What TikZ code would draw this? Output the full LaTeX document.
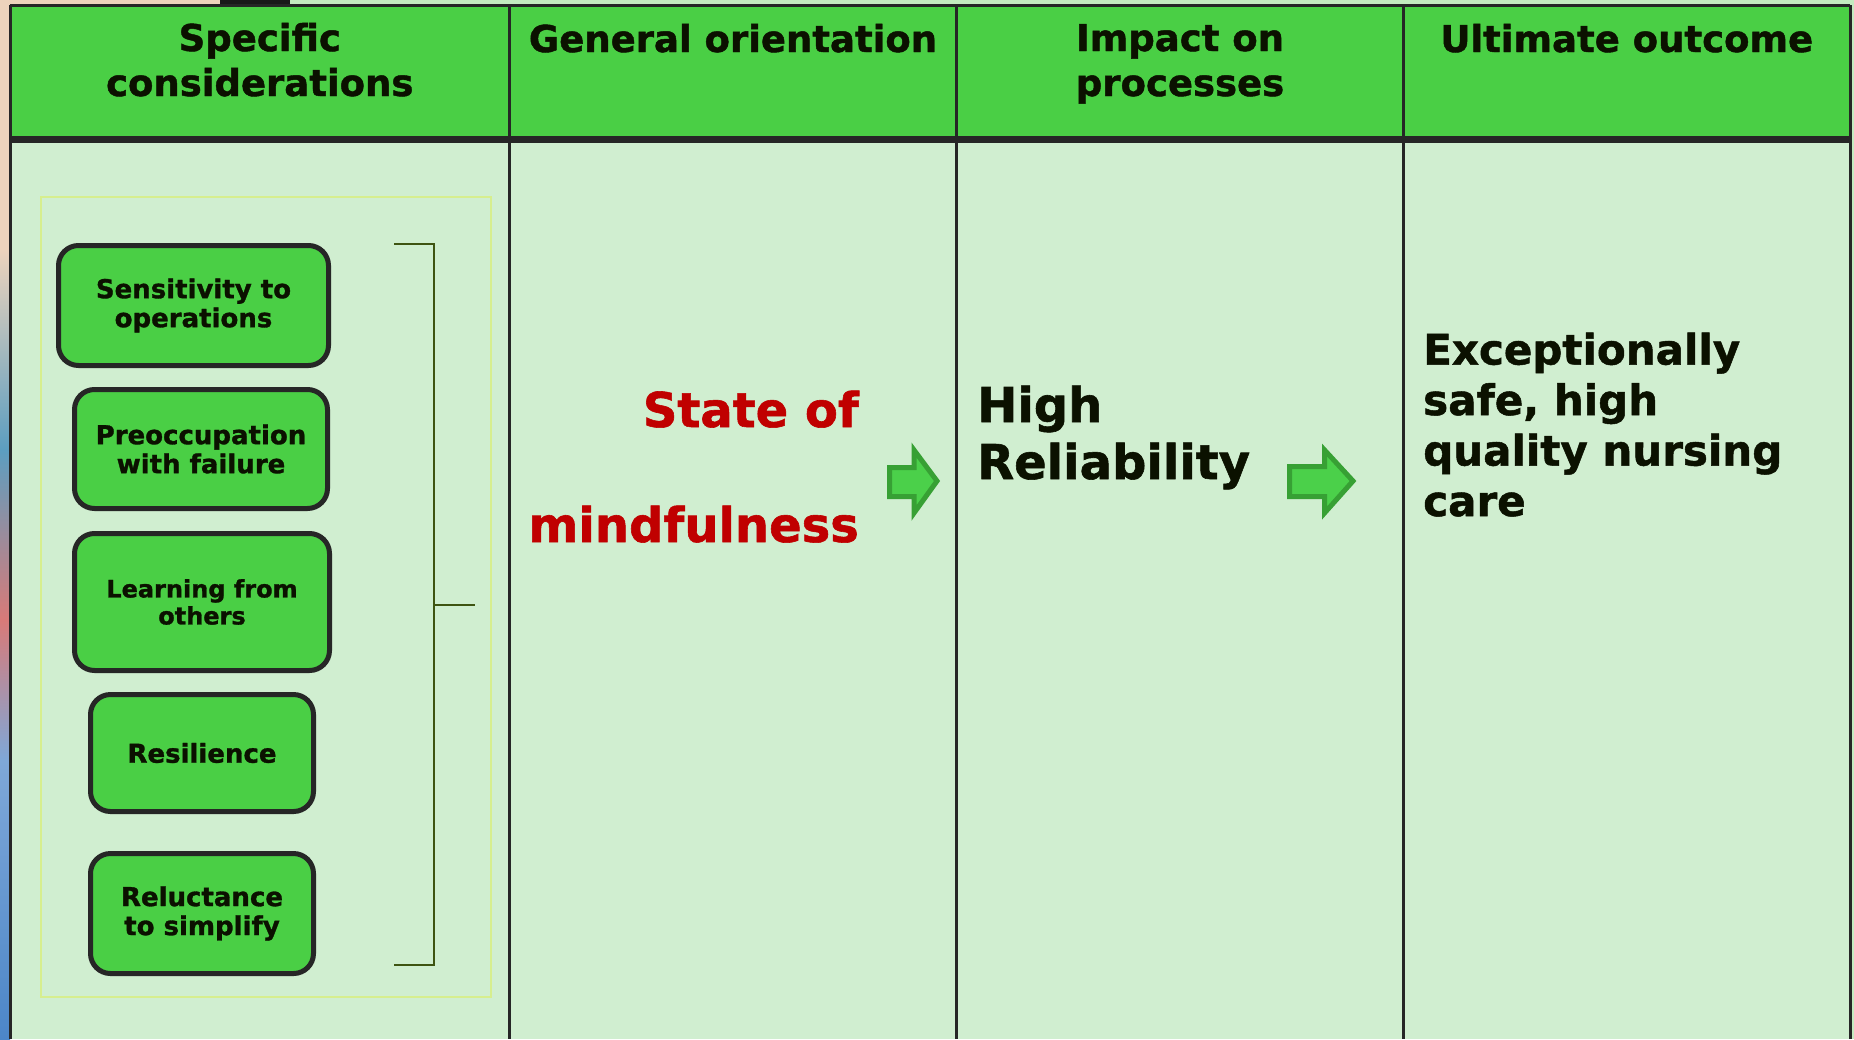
\documentclass[tikz,border=0pt]{standalone}
\usepackage{fontspec}
\setmainfont{DejaVu Sans}[BoldFeatures={FakeBold=1.2}]
\definecolor{hdrgreen}{HTML}{4ACF45}
\definecolor{bodygreen}{HTML}{D0EED0}
\definecolor{inkdark}{HTML}{0B1100}
\definecolor{rulegray}{HTML}{262626}
\definecolor{framelime}{HTML}{D6EE8E}
\definecolor{bracketolive}{HTML}{3E5412}
\definecolor{arrowfill}{HTML}{4BD04A}
\definecolor{arrowedge}{HTML}{37A034}
\definecolor{mindred}{HTML}{C00000}
\definecolor{peach}{HTML}{EDD3BC}
\definecolor{tealblue}{HTML}{5C9EC0}
\definecolor{pinkred}{HTML}{D87A78}
\definecolor{skyblue}{HTML}{7FA8D8}
\definecolor{deepblue}{HTML}{4C86C8}
\definecolor{paleedge}{HTML}{C4EBC0}
\begin{document}
\begin{tikzpicture}[x=1pt,y=-1pt,
  hdr/.style={font=\fontsize{37}{45}\selectfont\bfseries, text=inkdark, align=center, inner sep=0pt, anchor=base},
  factor/.style={draw=rulegray, line width=5pt, fill=hdrgreen, rounded corners=20pt, inner sep=0pt,
    text=inkdark, align=center, font=\fontsize{26}{29}\selectfont\bfseries},
  bigtxt/.style={font=\fontsize{48}{57}\selectfont\bfseries, inner sep=0pt, text=inkdark},
  flow/.style={fill=arrowfill, draw=arrowedge, line width=5pt, line join=miter},
  gridline/.style={draw=rulegray, line width=3pt}
]
\useasboundingbox (0,0) rectangle (1854,1039);

% backdrop around the table
\shade[top color=peach, bottom color=peach] (0,0) rectangle (10,250);
\shade[top color=peach, bottom color=tealblue] (0,250) rectangle (10,450);
\shade[top color=tealblue, bottom color=pinkred] (0,450) rectangle (10,620);
\shade[top color=pinkred, bottom color=skyblue] (0,620) rectangle (10,760);
\shade[top color=skyblue, bottom color=deepblue] (0,760) rectangle (10,1039);
\fill[peach] (10,0) rectangle (220,5);
\fill[black!90] (220,0) rectangle (290,5);
\fill[paleedge] (290,0) rectangle (1854,5);
\fill[paleedge] (1850,0) rectangle (1854,1039);

% table
\fill[hdrgreen] (10,5) rectangle (1850,139);
\fill[bodygreen] (10,139) rectangle (1850,1039);
\draw[gridline] (10,5) -- (1850,5);
\draw[gridline] (10,5) -- (10,1039);
\draw[gridline] (1850,5) -- (1850,1039);
\draw[gridline] (509.5,5) -- (509.5,1039);
\draw[gridline] (956.5,5) -- (956.5,1039);
\draw[gridline] (1403.5,5) -- (1403.5,1039);
\draw[rulegray, line width=7pt] (10,139) -- (1850,139);

% column headings (anchored at the baseline of their last line)
\node[hdr] (h1) at (259.75,96) {Specific\\considerations};
\node[hdr] (h2) at (733,52) {General orientation};
\node[hdr] (h3) at (1180,96) {Impact on\\processes};
\node[hdr] (h4) at (1626.75,52) {Ultimate outcome};

% the five considerations
\draw[framelime, line width=1.5pt] (41,197) rectangle (491,997);
\node[factor, minimum width=270pt, minimum height=120pt] (f1) at (193.5,305.5) {Sensitivity to\\operations};
\node[factor, minimum width=253pt, minimum height=119pt] (f2) at (201,449) {Preoccupation\\with failure};
\node[factor, minimum width=255pt, minimum height=137pt, font=\fontsize{24}{27}\selectfont\bfseries] (f3) at (202,602) {Learning from\\others};
\node[factor, minimum width=223pt, minimum height=117pt] (f4) at (202,753) {Resilience};
\node[factor, minimum width=223pt, minimum height=120pt] (f5) at (202,913.5) {Reluctance\\to simplify};

% bracket gathering them
\coordinate (bt) at (394,244);
\coordinate (bb) at (394,965);
\coordinate (bm) at (475,605);
\draw[bracketolive, line width=2pt] (bt) -- (434,244) -- (434,965) -- (bb);
\draw[bracketolive, line width=2pt] (434,605) -- (bm);

% orientation, process, outcome
\node[bigtxt, text=mindred, align=right, anchor=base east] (mind) at (859,542) {State of\\[58pt]mindfulness};
\node[bigtxt, align=left, anchor=base west] (rel) at (977,479) {High\\Reliability};
\node[font=\fontsize{42}{50.5}\selectfont\bfseries, text=inkdark, inner sep=0pt, align=left, anchor=base west] (out) at (1423,516) {Exceptionally\\safe, high\\quality nursing\\care};

% block arrows
\draw[flow] (889.5,467.5) -- (914,467.5) -- (914,450) -- (937,481) -- (914,513) -- (914,496.5) -- (889.5,496.5) -- cycle;
\draw[flow] (1289.5,466.5) -- (1324.5,466.5) -- (1324.5,450) -- (1353,481) -- (1324.5,513) -- (1324.5,496.5) -- (1289.5,496.5) -- cycle;
\end{tikzpicture}
\end{document}
